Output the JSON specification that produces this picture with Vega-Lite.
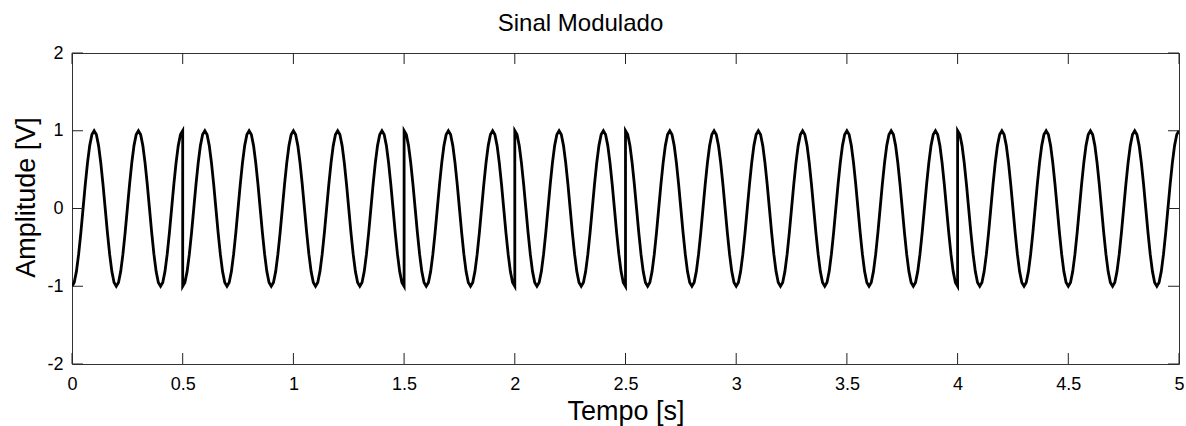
{
"$schema": "https://vega.github.io/schema/vega-lite/v6.json",
"width": 1107, "height": 311,
"autosize": {"type": "none"},
"padding": {"left": 72, "top": 53, "right": 7, "bottom": 62},
"background": "white",
"title": {"text": "Sinal Modulado", "fontSize": 24, "font": "Liberation Sans", "fontWeight": "normal", "color": "black", "offset": 8, "anchor": "middle", "dx": -45},
"config": {
 "view": {"stroke": "#333333", "strokeWidth": 1},
 "axis": {"grid": false, "domain": false, "ticks": false, "labelFont": "Liberation Sans", "labelFontSize": 18, "labelColor": "black", "labelFlush": false, "labelOverlap": false, "titleFont": "Liberation Sans", "titleFontSize": 27, "titleFontWeight": "normal", "titleColor": "black"},
 "axisX": {"labelPadding": 11, "titlePadding": 5},
 "axisY": {"labelPadding": 9, "titlePadding": 6, "titleY": 144}
},
"datasets": {
"xt": [{"v":0},{"v":0.5},{"v":1},{"v":1.5},{"v":2},{"v":2.5},{"v":3},{"v":3.5},{"v":4},{"v":4.5},{"v":5}],
"yt": [{"v":-2},{"v":-1},{"v":0},{"v":1},{"v":2}],
"sig": [
{"t":0,"a":-1},{"t":0.01,"a":-0.9511},{"t":0.02,"a":-0.809},{"t":0.03,"a":-0.5878},{"t":0.04,"a":-0.309},{"t":0.05,"a":0},{"t":0.06,"a":0.309},{"t":0.07,"a":0.5878},{"t":0.08,"a":0.809},{"t":0.09,"a":0.9511},
{"t":0.1,"a":1},{"t":0.11,"a":0.9511},{"t":0.12,"a":0.809},{"t":0.13,"a":0.5878},{"t":0.14,"a":0.309},{"t":0.15,"a":0},{"t":0.16,"a":-0.309},{"t":0.17,"a":-0.5878},{"t":0.18,"a":-0.809},{"t":0.19,"a":-0.9511},
{"t":0.2,"a":-1},{"t":0.21,"a":-0.9511},{"t":0.22,"a":-0.809},{"t":0.23,"a":-0.5878},{"t":0.24,"a":-0.309},{"t":0.25,"a":0},{"t":0.26,"a":0.309},{"t":0.27,"a":0.5878},{"t":0.28,"a":0.809},{"t":0.29,"a":0.9511},
{"t":0.3,"a":1},{"t":0.31,"a":0.9511},{"t":0.32,"a":0.809},{"t":0.33,"a":0.5878},{"t":0.34,"a":0.309},{"t":0.35,"a":0},{"t":0.36,"a":-0.309},{"t":0.37,"a":-0.5878},{"t":0.38,"a":-0.809},{"t":0.39,"a":-0.9511},
{"t":0.4,"a":-1},{"t":0.41,"a":-0.9511},{"t":0.42,"a":-0.809},{"t":0.43,"a":-0.5878},{"t":0.44,"a":-0.309},{"t":0.45,"a":0},{"t":0.46,"a":0.309},{"t":0.47,"a":0.5878},{"t":0.48,"a":0.809},{"t":0.49,"a":0.9511},
{"t":0.5,"a":1},
{"t":0.5,"a":-1},{"t":0.51,"a":-0.9511},{"t":0.52,"a":-0.809},{"t":0.53,"a":-0.5878},{"t":0.54,"a":-0.309},{"t":0.55,"a":0},{"t":0.56,"a":0.309},{"t":0.57,"a":0.5878},{"t":0.58,"a":0.809},{"t":0.59,"a":0.9511},
{"t":0.6,"a":1},{"t":0.61,"a":0.9511},{"t":0.62,"a":0.809},{"t":0.63,"a":0.5878},{"t":0.64,"a":0.309},{"t":0.65,"a":0},{"t":0.66,"a":-0.309},{"t":0.67,"a":-0.5878},{"t":0.68,"a":-0.809},{"t":0.69,"a":-0.9511},
{"t":0.7,"a":-1},{"t":0.71,"a":-0.9511},{"t":0.72,"a":-0.809},{"t":0.73,"a":-0.5878},{"t":0.74,"a":-0.309},{"t":0.75,"a":0},{"t":0.76,"a":0.309},{"t":0.77,"a":0.5878},{"t":0.78,"a":0.809},{"t":0.79,"a":0.9511},
{"t":0.8,"a":1},{"t":0.81,"a":0.9511},{"t":0.82,"a":0.809},{"t":0.83,"a":0.5878},{"t":0.84,"a":0.309},{"t":0.85,"a":0},{"t":0.86,"a":-0.309},{"t":0.87,"a":-0.5878},{"t":0.88,"a":-0.809},{"t":0.89,"a":-0.9511},
{"t":0.9,"a":-1},{"t":0.91,"a":-0.9511},{"t":0.92,"a":-0.809},{"t":0.93,"a":-0.5878},{"t":0.94,"a":-0.309},{"t":0.95,"a":0},{"t":0.96,"a":0.309},{"t":0.97,"a":0.5878},{"t":0.98,"a":0.809},{"t":0.99,"a":0.9511},
{"t":1,"a":1},{"t":1.01,"a":0.9511},{"t":1.02,"a":0.809},{"t":1.03,"a":0.5878},{"t":1.04,"a":0.309},{"t":1.05,"a":0},{"t":1.06,"a":-0.309},{"t":1.07,"a":-0.5878},{"t":1.08,"a":-0.809},{"t":1.09,"a":-0.9511},
{"t":1.1,"a":-1},{"t":1.11,"a":-0.9511},{"t":1.12,"a":-0.809},{"t":1.13,"a":-0.5878},{"t":1.14,"a":-0.309},{"t":1.15,"a":0},{"t":1.16,"a":0.309},{"t":1.17,"a":0.5878},{"t":1.18,"a":0.809},{"t":1.19,"a":0.9511},
{"t":1.2,"a":1},{"t":1.21,"a":0.9511},{"t":1.22,"a":0.809},{"t":1.23,"a":0.5878},{"t":1.24,"a":0.309},{"t":1.25,"a":0},{"t":1.26,"a":-0.309},{"t":1.27,"a":-0.5878},{"t":1.28,"a":-0.809},{"t":1.29,"a":-0.9511},
{"t":1.3,"a":-1},{"t":1.31,"a":-0.9511},{"t":1.32,"a":-0.809},{"t":1.33,"a":-0.5878},{"t":1.34,"a":-0.309},{"t":1.35,"a":0},{"t":1.36,"a":0.309},{"t":1.37,"a":0.5878},{"t":1.38,"a":0.809},{"t":1.39,"a":0.9511},
{"t":1.4,"a":1},{"t":1.41,"a":0.9511},{"t":1.42,"a":0.809},{"t":1.43,"a":0.5878},{"t":1.44,"a":0.309},{"t":1.45,"a":0},{"t":1.46,"a":-0.309},{"t":1.47,"a":-0.5878},{"t":1.48,"a":-0.809},{"t":1.49,"a":-0.9511},
{"t":1.5,"a":-1},
{"t":1.5,"a":1},{"t":1.51,"a":0.9511},{"t":1.52,"a":0.809},{"t":1.53,"a":0.5878},{"t":1.54,"a":0.309},{"t":1.55,"a":0},{"t":1.56,"a":-0.309},{"t":1.57,"a":-0.5878},{"t":1.58,"a":-0.809},{"t":1.59,"a":-0.9511},
{"t":1.6,"a":-1},{"t":1.61,"a":-0.9511},{"t":1.62,"a":-0.809},{"t":1.63,"a":-0.5878},{"t":1.64,"a":-0.309},{"t":1.65,"a":0},{"t":1.66,"a":0.309},{"t":1.67,"a":0.5878},{"t":1.68,"a":0.809},{"t":1.69,"a":0.9511},
{"t":1.7,"a":1},{"t":1.71,"a":0.9511},{"t":1.72,"a":0.809},{"t":1.73,"a":0.5878},{"t":1.74,"a":0.309},{"t":1.75,"a":0},{"t":1.76,"a":-0.309},{"t":1.77,"a":-0.5878},{"t":1.78,"a":-0.809},{"t":1.79,"a":-0.9511},
{"t":1.8,"a":-1},{"t":1.81,"a":-0.9511},{"t":1.82,"a":-0.809},{"t":1.83,"a":-0.5878},{"t":1.84,"a":-0.309},{"t":1.85,"a":0},{"t":1.86,"a":0.309},{"t":1.87,"a":0.5878},{"t":1.88,"a":0.809},{"t":1.89,"a":0.9511},
{"t":1.9,"a":1},{"t":1.91,"a":0.9511},{"t":1.92,"a":0.809},{"t":1.93,"a":0.5878},{"t":1.94,"a":0.309},{"t":1.95,"a":0},{"t":1.96,"a":-0.309},{"t":1.97,"a":-0.5878},{"t":1.98,"a":-0.809},{"t":1.99,"a":-0.9511},
{"t":2,"a":-1},
{"t":2,"a":1},{"t":2.01,"a":0.9511},{"t":2.02,"a":0.809},{"t":2.03,"a":0.5878},{"t":2.04,"a":0.309},{"t":2.05,"a":0},{"t":2.06,"a":-0.309},{"t":2.07,"a":-0.5878},{"t":2.08,"a":-0.809},{"t":2.09,"a":-0.9511},
{"t":2.1,"a":-1},{"t":2.11,"a":-0.9511},{"t":2.12,"a":-0.809},{"t":2.13,"a":-0.5878},{"t":2.14,"a":-0.309},{"t":2.15,"a":0},{"t":2.16,"a":0.309},{"t":2.17,"a":0.5878},{"t":2.18,"a":0.809},{"t":2.19,"a":0.9511},
{"t":2.2,"a":1},{"t":2.21,"a":0.9511},{"t":2.22,"a":0.809},{"t":2.23,"a":0.5878},{"t":2.24,"a":0.309},{"t":2.25,"a":0},{"t":2.26,"a":-0.309},{"t":2.27,"a":-0.5878},{"t":2.28,"a":-0.809},{"t":2.29,"a":-0.9511},
{"t":2.3,"a":-1},{"t":2.31,"a":-0.9511},{"t":2.32,"a":-0.809},{"t":2.33,"a":-0.5878},{"t":2.34,"a":-0.309},{"t":2.35,"a":0},{"t":2.36,"a":0.309},{"t":2.37,"a":0.5878},{"t":2.38,"a":0.809},{"t":2.39,"a":0.9511},
{"t":2.4,"a":1},{"t":2.41,"a":0.9511},{"t":2.42,"a":0.809},{"t":2.43,"a":0.5878},{"t":2.44,"a":0.309},{"t":2.45,"a":0},{"t":2.46,"a":-0.309},{"t":2.47,"a":-0.5878},{"t":2.48,"a":-0.809},{"t":2.49,"a":-0.9511},
{"t":2.5,"a":-1},
{"t":2.5,"a":1},{"t":2.51,"a":0.9511},{"t":2.52,"a":0.809},{"t":2.53,"a":0.5878},{"t":2.54,"a":0.309},{"t":2.55,"a":0},{"t":2.56,"a":-0.309},{"t":2.57,"a":-0.5878},{"t":2.58,"a":-0.809},{"t":2.59,"a":-0.9511},
{"t":2.6,"a":-1},{"t":2.61,"a":-0.9511},{"t":2.62,"a":-0.809},{"t":2.63,"a":-0.5878},{"t":2.64,"a":-0.309},{"t":2.65,"a":0},{"t":2.66,"a":0.309},{"t":2.67,"a":0.5878},{"t":2.68,"a":0.809},{"t":2.69,"a":0.9511},
{"t":2.7,"a":1},{"t":2.71,"a":0.9511},{"t":2.72,"a":0.809},{"t":2.73,"a":0.5878},{"t":2.74,"a":0.309},{"t":2.75,"a":0},{"t":2.76,"a":-0.309},{"t":2.77,"a":-0.5878},{"t":2.78,"a":-0.809},{"t":2.79,"a":-0.9511},
{"t":2.8,"a":-1},{"t":2.81,"a":-0.9511},{"t":2.82,"a":-0.809},{"t":2.83,"a":-0.5878},{"t":2.84,"a":-0.309},{"t":2.85,"a":0},{"t":2.86,"a":0.309},{"t":2.87,"a":0.5878},{"t":2.88,"a":0.809},{"t":2.89,"a":0.9511},
{"t":2.9,"a":1},{"t":2.91,"a":0.9511},{"t":2.92,"a":0.809},{"t":2.93,"a":0.5878},{"t":2.94,"a":0.309},{"t":2.95,"a":0},{"t":2.96,"a":-0.309},{"t":2.97,"a":-0.5878},{"t":2.98,"a":-0.809},{"t":2.99,"a":-0.9511},
{"t":3,"a":-1},{"t":3.01,"a":-0.9511},{"t":3.02,"a":-0.809},{"t":3.03,"a":-0.5878},{"t":3.04,"a":-0.309},{"t":3.05,"a":0},{"t":3.06,"a":0.309},{"t":3.07,"a":0.5878},{"t":3.08,"a":0.809},{"t":3.09,"a":0.9511},
{"t":3.1,"a":1},{"t":3.11,"a":0.9511},{"t":3.12,"a":0.809},{"t":3.13,"a":0.5878},{"t":3.14,"a":0.309},{"t":3.15,"a":0},{"t":3.16,"a":-0.309},{"t":3.17,"a":-0.5878},{"t":3.18,"a":-0.809},{"t":3.19,"a":-0.9511},
{"t":3.2,"a":-1},{"t":3.21,"a":-0.9511},{"t":3.22,"a":-0.809},{"t":3.23,"a":-0.5878},{"t":3.24,"a":-0.309},{"t":3.25,"a":0},{"t":3.26,"a":0.309},{"t":3.27,"a":0.5878},{"t":3.28,"a":0.809},{"t":3.29,"a":0.9511},
{"t":3.3,"a":1},{"t":3.31,"a":0.9511},{"t":3.32,"a":0.809},{"t":3.33,"a":0.5878},{"t":3.34,"a":0.309},{"t":3.35,"a":0},{"t":3.36,"a":-0.309},{"t":3.37,"a":-0.5878},{"t":3.38,"a":-0.809},{"t":3.39,"a":-0.9511},
{"t":3.4,"a":-1},{"t":3.41,"a":-0.9511},{"t":3.42,"a":-0.809},{"t":3.43,"a":-0.5878},{"t":3.44,"a":-0.309},{"t":3.45,"a":0},{"t":3.46,"a":0.309},{"t":3.47,"a":0.5878},{"t":3.48,"a":0.809},{"t":3.49,"a":0.9511},
{"t":3.5,"a":1},{"t":3.51,"a":0.9511},{"t":3.52,"a":0.809},{"t":3.53,"a":0.5878},{"t":3.54,"a":0.309},{"t":3.55,"a":0},{"t":3.56,"a":-0.309},{"t":3.57,"a":-0.5878},{"t":3.58,"a":-0.809},{"t":3.59,"a":-0.9511},
{"t":3.6,"a":-1},{"t":3.61,"a":-0.9511},{"t":3.62,"a":-0.809},{"t":3.63,"a":-0.5878},{"t":3.64,"a":-0.309},{"t":3.65,"a":0},{"t":3.66,"a":0.309},{"t":3.67,"a":0.5878},{"t":3.68,"a":0.809},{"t":3.69,"a":0.9511},
{"t":3.7,"a":1},{"t":3.71,"a":0.9511},{"t":3.72,"a":0.809},{"t":3.73,"a":0.5878},{"t":3.74,"a":0.309},{"t":3.75,"a":0},{"t":3.76,"a":-0.309},{"t":3.77,"a":-0.5878},{"t":3.78,"a":-0.809},{"t":3.79,"a":-0.9511},
{"t":3.8,"a":-1},{"t":3.81,"a":-0.9511},{"t":3.82,"a":-0.809},{"t":3.83,"a":-0.5878},{"t":3.84,"a":-0.309},{"t":3.85,"a":0},{"t":3.86,"a":0.309},{"t":3.87,"a":0.5878},{"t":3.88,"a":0.809},{"t":3.89,"a":0.9511},
{"t":3.9,"a":1},{"t":3.91,"a":0.9511},{"t":3.92,"a":0.809},{"t":3.93,"a":0.5878},{"t":3.94,"a":0.309},{"t":3.95,"a":0},{"t":3.96,"a":-0.309},{"t":3.97,"a":-0.5878},{"t":3.98,"a":-0.809},{"t":3.99,"a":-0.9511},
{"t":4,"a":-1},
{"t":4,"a":1},{"t":4.01,"a":0.9511},{"t":4.02,"a":0.809},{"t":4.03,"a":0.5878},{"t":4.04,"a":0.309},{"t":4.05,"a":0},{"t":4.06,"a":-0.309},{"t":4.07,"a":-0.5878},{"t":4.08,"a":-0.809},{"t":4.09,"a":-0.9511},
{"t":4.1,"a":-1},{"t":4.11,"a":-0.9511},{"t":4.12,"a":-0.809},{"t":4.13,"a":-0.5878},{"t":4.14,"a":-0.309},{"t":4.15,"a":0},{"t":4.16,"a":0.309},{"t":4.17,"a":0.5878},{"t":4.18,"a":0.809},{"t":4.19,"a":0.9511},
{"t":4.2,"a":1},{"t":4.21,"a":0.9511},{"t":4.22,"a":0.809},{"t":4.23,"a":0.5878},{"t":4.24,"a":0.309},{"t":4.25,"a":0},{"t":4.26,"a":-0.309},{"t":4.27,"a":-0.5878},{"t":4.28,"a":-0.809},{"t":4.29,"a":-0.9511},
{"t":4.3,"a":-1},{"t":4.31,"a":-0.9511},{"t":4.32,"a":-0.809},{"t":4.33,"a":-0.5878},{"t":4.34,"a":-0.309},{"t":4.35,"a":0},{"t":4.36,"a":0.309},{"t":4.37,"a":0.5878},{"t":4.38,"a":0.809},{"t":4.39,"a":0.9511},
{"t":4.4,"a":1},{"t":4.41,"a":0.9511},{"t":4.42,"a":0.809},{"t":4.43,"a":0.5878},{"t":4.44,"a":0.309},{"t":4.45,"a":0},{"t":4.46,"a":-0.309},{"t":4.47,"a":-0.5878},{"t":4.48,"a":-0.809},{"t":4.49,"a":-0.9511},
{"t":4.5,"a":-1},{"t":4.51,"a":-0.9511},{"t":4.52,"a":-0.809},{"t":4.53,"a":-0.5878},{"t":4.54,"a":-0.309},{"t":4.55,"a":0},{"t":4.56,"a":0.309},{"t":4.57,"a":0.5878},{"t":4.58,"a":0.809},{"t":4.59,"a":0.9511},
{"t":4.6,"a":1},{"t":4.61,"a":0.9511},{"t":4.62,"a":0.809},{"t":4.63,"a":0.5878},{"t":4.64,"a":0.309},{"t":4.65,"a":0},{"t":4.66,"a":-0.309},{"t":4.67,"a":-0.5878},{"t":4.68,"a":-0.809},{"t":4.69,"a":-0.9511},
{"t":4.7,"a":-1},{"t":4.71,"a":-0.9511},{"t":4.72,"a":-0.809},{"t":4.73,"a":-0.5878},{"t":4.74,"a":-0.309},{"t":4.75,"a":0},{"t":4.76,"a":0.309},{"t":4.77,"a":0.5878},{"t":4.78,"a":0.809},{"t":4.79,"a":0.9511},
{"t":4.8,"a":1},{"t":4.81,"a":0.9511},{"t":4.82,"a":0.809},{"t":4.83,"a":0.5878},{"t":4.84,"a":0.309},{"t":4.85,"a":0},{"t":4.86,"a":-0.309},{"t":4.87,"a":-0.5878},{"t":4.88,"a":-0.809},{"t":4.89,"a":-0.9511},
{"t":4.9,"a":-1},{"t":4.91,"a":-0.9511},{"t":4.92,"a":-0.809},{"t":4.93,"a":-0.5878},{"t":4.94,"a":-0.309},{"t":4.95,"a":0},{"t":4.96,"a":0.309},{"t":4.97,"a":0.5878},{"t":4.98,"a":0.809},{"t":4.99,"a":0.9511},
{"t":5,"a":1}
]},
"layer": [
 {"data": {"name": "sig"},
  "mark": {"type": "line", "color": "black", "strokeWidth": 2.8, "clip": true},
  "encoding": {
   "x": {"field": "t", "type": "quantitative", "title": "Tempo [s]", "scale": {"domain": [0, 5], "nice": false, "zero": false},
         "axis": {"values": [0, 0.5, 1, 1.5, 2, 2.5, 3, 3.5, 4, 4.5, 5], "labelExpr": "'' + datum.value"}},
   "y": {"field": "a", "type": "quantitative", "title": "Amplitude [V]", "scale": {"domain": [-2, 2], "nice": false},
         "axis": {"values": [-2, -1, 0, 1, 2], "labelExpr": "'' + datum.value"}}
  }},
 {"data": {"name": "xt"},
  "mark": {"type": "rule", "color": "#222222", "strokeWidth": 1},
  "encoding": {
   "x": {"field": "v", "type": "quantitative", "title": "Tempo [s]"},
   "y": {"datum": -2},
   "y2": {"datum": -1.8585}
  }},
 {"data": {"name": "xt"},
  "mark": {"type": "rule", "color": "#222222", "strokeWidth": 1},
  "encoding": {
   "x": {"field": "v", "type": "quantitative", "title": "Tempo [s]"},
   "y": {"datum": 2},
   "y2": {"datum": 1.8585}
  }},
 {"data": {"name": "yt"},
  "mark": {"type": "rule", "color": "#222222", "strokeWidth": 1},
  "encoding": {
   "y": {"field": "v", "type": "quantitative", "title": "Amplitude [V]"},
   "x": {"datum": 0},
   "x2": {"datum": 0.0497}
  }},
 {"data": {"name": "yt"},
  "mark": {"type": "rule", "color": "#222222", "strokeWidth": 1},
  "encoding": {
   "y": {"field": "v", "type": "quantitative", "title": "Amplitude [V]"},
   "x": {"datum": 5},
   "x2": {"datum": 4.9503}
  }}
]
}
